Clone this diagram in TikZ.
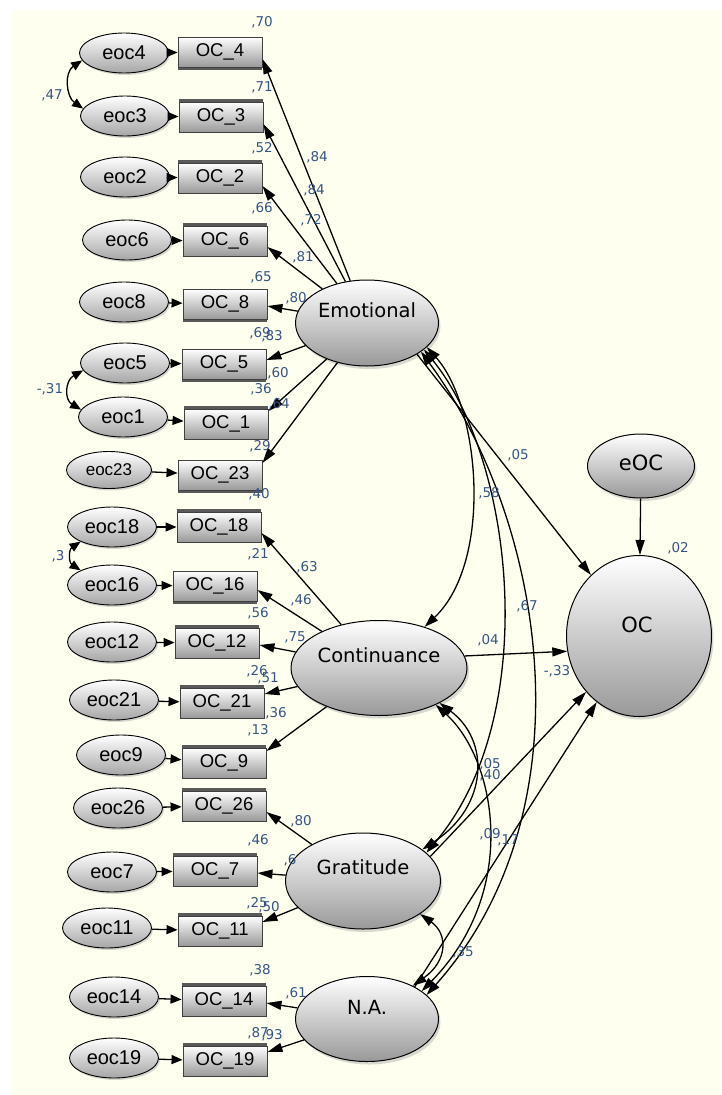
\documentclass[tikz,border=0pt]{standalone}
\usepackage{fontspec}
\setmainfont{Liberation Sans}
\newfontfamily\dvs{DejaVu Sans}
\usetikzlibrary{arrows.meta,shapes.geometric,shadows}
\definecolor{cream}{RGB}{255,255,240}
\definecolor{est}{RGB}{55,85,130}
\tikzset{
  errv/.style={ellipse, draw=black, line width=0.9pt, minimum width=89pt, minimum height=40pt,
    inner sep=0pt, top color=white, bottom color=black!35,
    drop shadow={shadow xshift=1.5pt, shadow yshift=-2pt, fill=black!30},
    font=\fontsize{20}{20}\selectfont},
  obsv/.style={rectangle, draw=black!75, line width=0.9pt, minimum width=84pt, minimum height=30pt,
    inner sep=0pt, top color=white, bottom color=black!40, font=\fontsize{18.5}{18.5}\selectfont},
  shup/.style={drop shadow={shadow xshift=0pt, shadow yshift=3pt, fill=black!65, opacity=1}},
  shdn/.style={drop shadow={shadow xshift=0pt, shadow yshift=-3pt, fill=black!65, opacity=1}},
  latv/.style={ellipse, draw=black, line width=1pt, inner sep=0pt, top color=white, bottom color=black!40,
    drop shadow={shadow xshift=2pt, shadow yshift=-3pt, fill=black!30}},
  latname/.style={font=\dvs\fontsize{19.5}{19.5}\selectfont, inner sep=0pt},
  bigname/.style={font=\dvs\fontsize{21}{21}\selectfont, inner sep=0pt},
  estl/.style={font=\dvs\fontsize{13.5}{13.5}\selectfont, text=est, inner sep=0pt},
  arr/.style={-{Triangle[length=15pt,width=9pt]}, line width=1.3pt},
  earr/.style={-{Triangle[length=11pt,width=9pt]}, line width=1.3pt},
  cov/.style={{Triangle[length=14pt,width=9pt]}-{Triangle[length=14pt,width=9pt]}, line width=1.3pt},
  scov/.style={{Triangle[length=11pt,width=9pt]}-{Triangle[length=11pt,width=9pt]}, line width=1.3pt},
}
\begin{document}
\begin{tikzpicture}[x=1pt,y=-1pt]
\useasboundingbox (0,0) rectangle (721,1095);
\fill[white] (0,0) rectangle (721,1095);
\fill[cream] (12,10) rectangle (721,1095);

% latent variables
\node[latv, minimum width=143pt, minimum height=86pt] (Emo) at (367,323) {};
\node[latname] (EmoT) at (367,310) {Emotional};
\node[latv, minimum width=176pt, minimum height=95pt] (Con) at (379,668) {};
\node[latname] (ConT) at (379,655) {Continuance};
\node[latv, minimum width=155pt, minimum height=96pt] (Gra) at (363,881) {};
\node[latname] (GraT) at (363,867) {Gratitude};
\node[latv, minimum width=143pt, minimum height=85pt] (NA) at (367,1019) {};
\node[latname] (NAT) at (367,1007) {N.A.};
\node[latv, minimum width=145pt, minimum height=161pt] (OC) at (639,636) {};
\node[bigname] (OCT) at (637,625) {OC};
\node[latv, minimum width=107pt, minimum height=64pt] (eOC) at (641,466) {};
\node[bigname] (eOCT) at (641,463) {eOC};

% error terms
\node[errv] (e4) at (124,53) {eoc4};
\node[errv] (e3) at (125,116) {eoc3};
\node[errv] (e2) at (125,177) {eoc2};
\node[errv] (e6) at (127,240) {eoc6};
\node[errv] (e8) at (124,302) {eoc8};
\node[errv] (e5) at (125,363) {eoc5};
\node[errv] (e1) at (123,417) {eoc1};
\node[errv, minimum width=85pt, minimum height=37pt, font=\fontsize{17}{17}\selectfont] (e23) at (109,470) {eoc23};
\node[errv] (e18) at (112,527) {eoc18};
\node[errv] (e16) at (112,585) {eoc16};
\node[errv] (e12) at (112,642) {eoc12};
\node[errv] (e21) at (114,700) {eoc21};
\node[errv] (e9) at (121,755) {eoc9};
\node[errv] (e26) at (118,808) {eoc26};
\node[errv] (e7) at (112,872) {eoc7};
\node[errv] (e11) at (107,928) {eoc11};
\node[errv] (e14) at (114,997) {eoc14};
\node[errv] (e19) at (114,1058) {eoc19};

% observed indicators
\node[obsv, shdn] (o4) at (220,52) {OC\_4};
\node[obsv, shup] (o3) at (221,117) {OC\_3};
\node[obsv, shup] (o2) at (220,178) {OC\_2};
\node[obsv, shup] (o6) at (225,241) {OC\_6};
\node[obsv, shdn] (o8) at (225,304) {OC\_8};
\node[obsv, shdn] (o5) at (224,364) {OC\_5};
\node[obsv, shup] (o1) at (226,424) {OC\_1};
\node[obsv, shdn] (o23) at (220,475) {OC\_23};
\node[obsv, shup] (o18) at (219,527) {OC\_18};
\node[obsv, shdn] (o16) at (215,586) {OC\_16};
\node[obsv, shup] (o12) at (217,643) {OC\_12};
\node[obsv, shup] (o21) at (222,703) {OC\_21};
\node[obsv, shup] (o9) at (224,763) {OC\_9};
\node[obsv, shup] (o26) at (224,806) {OC\_26};
\node[obsv, shup] (o7) at (215,871) {OC\_7};
\node[obsv, shup] (o11) at (220,931) {OC\_11};
\node[obsv, shup] (o14) at (224,1001) {OC\_14};
\node[obsv, shup] (o19) at (225,1061) {OC\_19};

% error paths
\foreach \a/\b in {e4/o4,e3/o3,e2/o2,e6/o6,e8/o8,e5/o5,e1/o1,e23/o23,e18/o18,e16/o16,
                   e12/o12,e21/o21,e9/o9,e26/o26,e7/o7,e11/o11,e14/o14,e19/o19}
  \draw[earr] (\a) -- (\b);

% loadings
\foreach \b/\s in {o4/-7,o3/-7,o2/-8,o6/-6,o8/-2,o5/4,o1/13,o23/12}
  \draw[arr] (Emo) -- ([yshift=\s pt]\b.east);
\foreach \b/\s in {o18/-6,o16/-4,o12/-2,o21/9,o9/12}
  \draw[arr] (Con) -- ([yshift=\s pt]\b.east);
\foreach \b/\s in {o26/-6,o7/-2,o11/9}
  \draw[arr] (Gra) -- ([yshift=\s pt]\b.east);
\foreach \b/\s in {o14/-2,o19/9}
  \draw[arr] (NA) -- ([yshift=\s pt]\b.east);

% structural paths
\draw[arr] (Emo.-32) -- (OC);
\draw[arr] (Con.8) -- (OC.192);
\draw[arr] (Gra.20) -- (OC);
\draw[arr] (NA.34) -- (OC);
\draw[arr] (eOC) -- (OC);

% covariances among factors
\draw[cov] (Emo.-22) .. controls +(53,59) and +(69,-66) .. (Con.42);
\draw[cov] (Emo.-25) .. controls +(90,110) and +(116,-137) .. (Gra.24);
\draw[cov] (Emo.-28) .. controls +(125,170) and +(165,-185) .. (NA.22);
\draw[cov] (Con.-30) .. controls +(50,37) and +(67,-44) .. (Gra.28);
\draw[cov] (Con.-33) .. controls +(60,54) and +(99,-101) .. (NA.27);
\draw[cov] (Gra.-30) .. controls +(28,20) and +(35,-25) .. (NA.36);

% error covariances
\draw[scov] (e4.190) .. controls +(-18,12) and +(-17,-12) .. (e3.170);
\draw[scov] (e5.190) .. controls +(-18,10) and +(-17,-10) .. (e1.170);
\draw[scov] (e18.205) .. controls +(-12,8) and +(-12,-8) .. (e16.155);

% estimates
\node[estl] (r70) at (262,22) {,70};
\node[estl] (r71) at (262,87) {,71};
\node[estl] (c47) at (52,95) {,47};
\node[estl] (w84a) at (317,157) {,84};
\node[estl] (r52) at (262,148) {,52};
\node[estl] (w84b) at (314,190) {,84};
\node[estl] (r66) at (262,208) {,66};
\node[estl] (w72) at (311,220) {,72};
\node[estl] (w81) at (303,257) {,81};
\node[estl] (r65) at (261,277) {,65};
\node[estl] (w80a) at (296,298) {,80};
\node[estl] (r69) at (260,333) {,69};
\node[estl] (w83) at (272,336) {,83};
\node[estl] (w60) at (278,373) {,60};
\node[estl] (r36a) at (261,389) {,36};
\node[estl] (w64) at (279,404) {,64};
\node[estl] (r29) at (260,446) {,29};
\node[estl] (c31) at (50,389) {-,31};
\node[estl] (r40) at (259,494) {,40};
\node[estl] (r21) at (258,554) {,21};
\node[estl] (w63) at (307,567) {,63};
\node[estl] (c3) at (58,556) {,3};
\node[estl] (w46a) at (301,600) {,46};
\node[estl] (r56) at (258,613) {,56};
\node[estl] (w75) at (295,637) {,75};
\node[estl] (r26) at (257,671) {,26};
\node[estl] (w51) at (268,678) {,51};
\node[estl] (w36b) at (276,713) {,36};
\node[estl] (r13) at (258,730) {,13};
\node[estl] (w80b) at (301,821) {,80};
\node[estl] (r46b) at (258,840) {,46};
\node[estl] (w6) at (290,860) {,6};
\node[estl] (r25) at (257,903) {,25};
\node[estl] (w50) at (269,907) {,50};
\node[estl] (r38) at (260,970) {,38};
\node[estl] (w61) at (296,993) {,61};
\node[estl] (r87) at (258,1033) {,87};
\node[estl] (w93) at (272,1035) {,93};
\node[estl] (p05a) at (518,455) {,05};
\node[estl] (k58) at (489,493) {,58};
\node[estl] (k67) at (527,606) {,67};
\node[estl] (p04) at (488,640) {,04};
\node[estl] (p33) at (557,671) {-,33};
\node[estl] (k05b) at (490,764) {,05};
\node[estl] (k40) at (490,775) {,40};
\node[estl] (k09) at (490,834) {,09};
\node[estl] (p17) at (508,840) {,17};
\node[estl] (k35) at (463,952) {,35};
\node[estl] (r02) at (678,548) {,02};
\end{tikzpicture}
\end{document}
